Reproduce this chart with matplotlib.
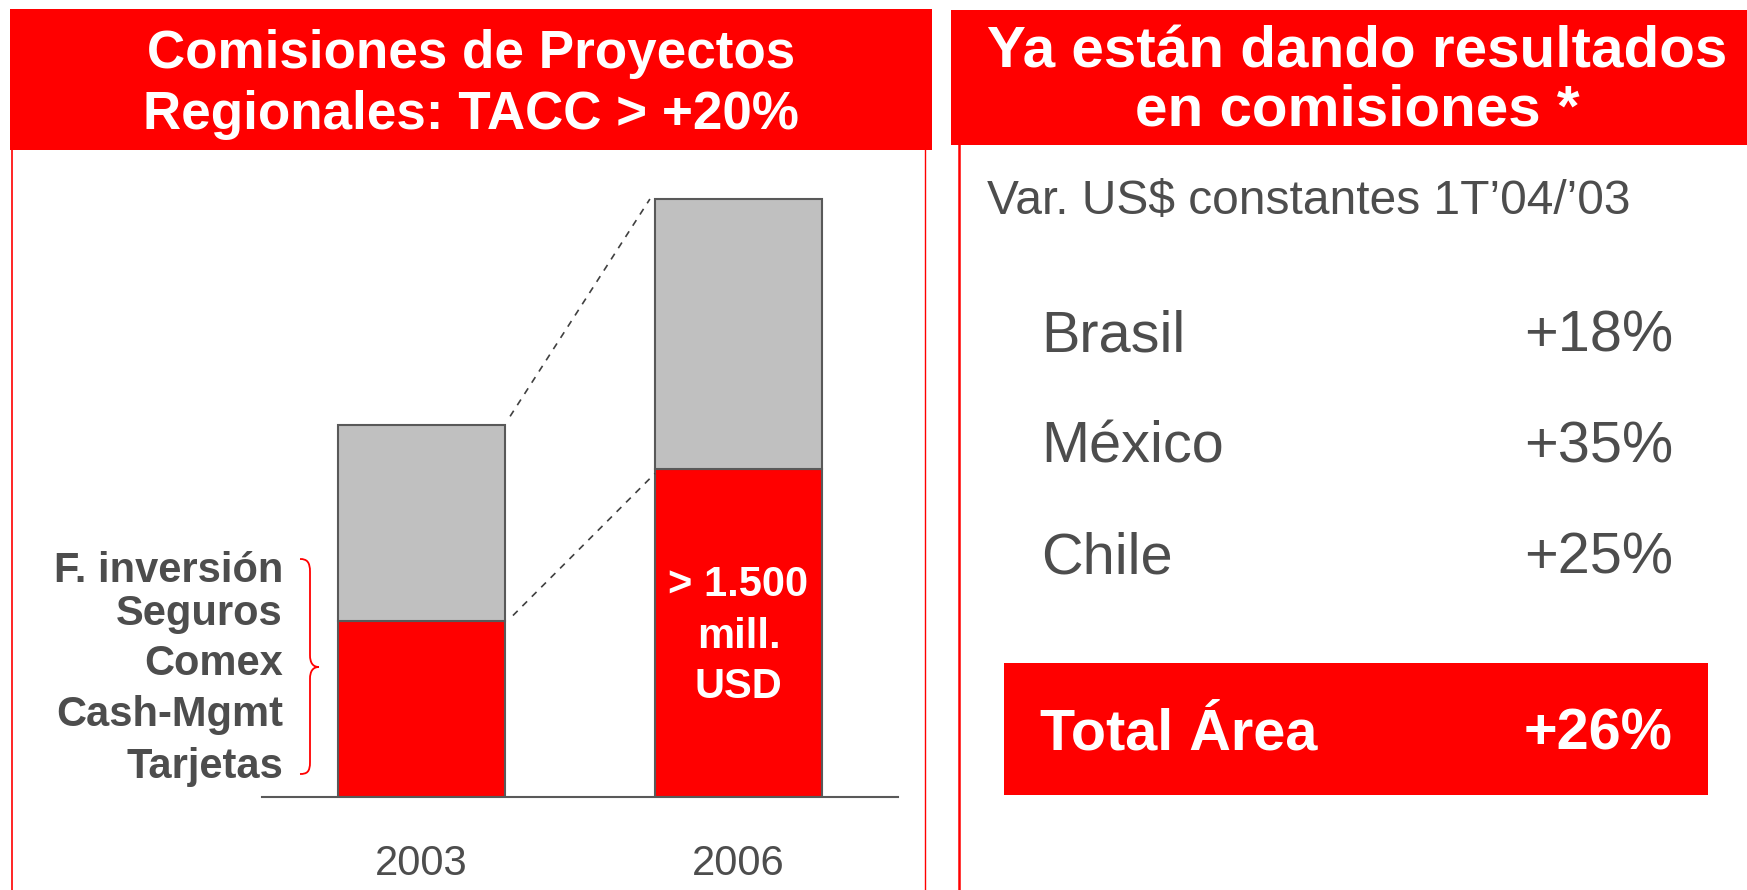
import matplotlib.pyplot as plt
from matplotlib.patches import Rectangle, PathPatch
from matplotlib.path import Path

plt.rcParams['font.family'] = ['Liberation Sans', 'DejaVu Sans']

RED = '#ff0000'
GRAY_TXT = '#4d4d4d'
GRAY_BAR = '#c0c0c0'
EDGE = '#595959'

# data (mill. USD)
years = ['2003', '2006']
proyectos = [805, 1500]     # red part
resto = [896, 1235]         # gray part on top
productos = ['F. inversión', 'Seguros', 'Comex', 'Cash-Mgmt', 'Tarjetas']
bar_text = ['> 1.500', 'mill.', 'USD']

paises = ['Brasil', 'México', 'Chile']
variacion = [18, 35, 25]
total_label = 'Total Área'
total_var = 26

W, H = 1747, 890
fig = plt.figure(figsize=(W / 100, H / 100), dpi=100)

# overlay in pixel coords
ov = fig.add_axes([0, 0, 1, 1])
ov.set_xlim(0, W)
ov.set_ylim(H, 0)
ov.axis('off')

# headers
ov.add_patch(Rectangle((10, 9), 922, 141, color=RED, lw=0))
ov.add_patch(Rectangle((951, 10), W - 951, 135, color=RED, lw=0))
ov.text(471, 68, 'Comisiones de Proyectos', color='white', fontsize=38.2,
        fontweight='bold', ha='center', va='baseline')
ov.text(471, 129, 'Regionales: TACC > +20%', color='white', fontsize=38.2,
        fontweight='bold', ha='center', va='baseline')
ov.text(1357, 67, 'Ya están dando resultados', color='white', fontsize=42,
        fontweight='bold', ha='center', va='baseline')
ov.text(1357, 125, 'en comisiones *', color='white', fontsize=42,
        fontweight='bold', ha='center', va='baseline')

# panel borders
ov.plot([12, 12], [150, H], color=RED, lw=1.2)
ov.plot([925.5, 925.5], [150, H], color=RED, lw=1.0)
ov.plot([959.5, 959.5], [145, H], color=RED, lw=1.8)

# product labels + brace
label_y = [582, 625, 675, 726, 778]
for name, y in zip(productos, label_y):
    ov.text(283, y, name, color=GRAY_TXT, fontsize=30, fontweight='bold',
            ha='right', va='baseline')
verts = [(300, 559), (307, 559), (310, 562), (310, 572),
         (310, 655),
         (310, 663), (313, 667), (319, 667),
         (313, 667), (310, 671), (310, 679),
         (310, 762),
         (310, 772), (307, 774), (300, 774)]
codes = [Path.MOVETO, Path.CURVE4, Path.CURVE4, Path.CURVE4,
         Path.LINETO,
         Path.CURVE4, Path.CURVE4, Path.CURVE4,
         Path.CURVE4, Path.CURVE4, Path.CURVE4,
         Path.LINETO,
         Path.CURVE4, Path.CURVE4, Path.CURVE4]
ov.add_patch(PathPatch(Path(verts, codes), fill=False, ec=RED, lw=1.3))

# right panel
ov.text(987, 214, 'Var. US$ constantes 1T’04/’03', color=GRAY_TXT,
        fontsize=34.5, ha='left', va='baseline')
row_y = [351, 462.5, 574]
for p, v, y in zip(paises, variacion, row_y):
    ov.text(1041, y, p, color=GRAY_TXT, fontsize=41.5, ha='left', va='baseline')
    ov.text(1673, y, f'+{v}%', color=GRAY_TXT, fontsize=41.5, ha='right',
            va='baseline')
ov.add_patch(Rectangle((1004, 663), 704, 132, color=RED, lw=0))
ov.text(1040, 750, total_label, color='white', fontsize=41.5,
        fontweight='bold', ha='left', va='baseline')
ov.text(1673, 750, f'+{total_var}%', color='white', fontsize=41.5,
        fontweight='bold', ha='right', va='baseline')

# bar chart
ax = fig.add_axes([262 / W, (H - 797) / H, 636 / W, 617 / H])
ax.set_facecolor('none')
x = [0, 1]
bw = 0.527
ax.bar(x, proyectos, width=bw, color=RED, edgecolor=EDGE, lw=1.5)
ax.bar(x, resto, width=bw, bottom=proyectos, color=GRAY_BAR, edgecolor=EDGE, lw=1.5)
ax.set_xlim(-0.503, 1.503)
ax.set_ylim(0, 2822)
tot = [a + b for a, b in zip(proyectos, resto)]
ax.plot([bw / 2 + 0.016, 1 - bw / 2 - 0.016], [tot[0] + 40, tot[1]],
        ls=(0, (4, 4)), color='#404040', lw=1.2)
ax.plot([bw / 2 + 0.025, 1 - bw / 2], [proyectos[0] + 25, proyectos[1] - 20],
        ls=(0, (4, 4)), color='#404040', lw=1.2)
for s in ['top', 'left', 'right']:
    ax.spines[s].set_visible(False)
ax.spines['bottom'].set_color(EDGE)
ax.spines['bottom'].set_linewidth(1.5)
ax.set_yticks([])
ax.set_xticks(x, years)
ax.tick_params(axis='x', length=0, pad=34, labelsize=30, labelcolor=GRAY_TXT)

# text inside the 2006 bar (baselines in px -> data)
px = 1500 / 328
for t, yb in zip(bar_text, [596, 648, 698]):
    ax.text(1, (797 - yb) * px, t, color='white', fontsize=30, fontweight='bold',
            ha='center', va='baseline')

fig.savefig('out.png', dpi=100)
